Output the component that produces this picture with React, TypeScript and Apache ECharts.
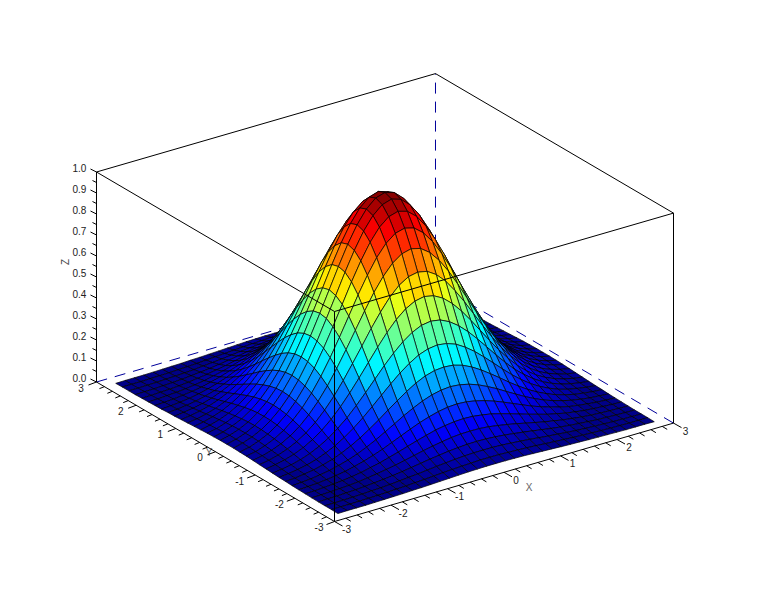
import React, { useEffect, useRef } from "react";
import * as echarts from "echarts";

// Mesh nodes on the x and y axes (34 cells in each direction).
const xGrid = [-2.8,-2.635,-2.471,-2.306,-2.141,-1.976,-1.812,-1.647,-1.482,-1.318,-1.153,-0.988,-0.824,-0.659,-0.494,-0.329,-0.165,0,0.165,0.329,0.494,0.659,0.824,0.988,1.153,1.318,1.482,1.647,1.812,1.976,2.141,2.306,2.471,2.635,2.8];
const yGrid = xGrid;
// Surface heights for one quadrant, from the peak outwards; the surface in the picture mirrors on both axes.
const zQuadrant = [
  [1.000,.987,.947,.885,.805,.712,.614,.515,.420,.333,.258,.194,.142,.101,.070,.047,.031,.020],
  [.987,.973,.934,.873,.794,.703,.605,.508,.414,.329,.254,.191,.140,.100,.069,.047,.031,.020],
  [.947,.934,.897,.838,.762,.675,.581,.487,.398,.316,.244,.183,.134,.096,.066,.045,.029,.019],
  [.885,.873,.838,.783,.712,.631,.543,.455,.371,.295,.228,.171,.126,.089,.062,.042,.027,.018],
  [.805,.794,.762,.712,.648,.573,.494,.414,.338,.268,.207,.156,.114,.081,.056,.038,.025,.016],
  [.712,.703,.675,.631,.573,.508,.437,.367,.299,.237,.184,.138,.101,.072,.050,.034,.022,.014],
  [.614,.605,.581,.543,.494,.437,.377,.316,.258,.205,.158,.119,.087,.062,.043,.029,.019,.012],
  [.515,.508,.487,.455,.414,.367,.316,.265,.216,.171,.133,.100,.073,.052,.036,.024,.016,.010],
  [.420,.414,.398,.371,.338,.299,.258,.216,.176,.140,.108,.081,.060,.042,.029,.020,.013,.008],
  [.333,.329,.316,.295,.268,.237,.205,.171,.140,.111,.086,.065,.047,.034,.023,.016,.010,.007],
  [.258,.254,.244,.228,.207,.184,.158,.133,.108,.086,.066,.050,.037,.026,.018,.012,.008,.005],
  [.194,.191,.183,.171,.156,.138,.119,.100,.081,.065,.050,.038,.027,.020,.014,.009,.006,.004],
  [.142,.140,.134,.126,.114,.101,.087,.073,.060,.047,.037,.027,.020,.014,.010,.007,.004,.003],
  [.101,.100,.096,.089,.081,.072,.062,.052,.042,.034,.026,.020,.014,.010,.007,.005,.003,.002],
  [.070,.069,.066,.062,.056,.050,.043,.036,.029,.023,.018,.014,.010,.007,.005,.003,.002,.001],
  [.047,.047,.045,.042,.038,.034,.029,.024,.020,.016,.012,.009,.007,.005,.003,.002,.001,.001],
  [.031,.031,.029,.027,.025,.022,.019,.016,.013,.010,.008,.006,.004,.003,.002,.001,.001,.001],
  [.020,.020,.019,.018,.016,.014,.012,.010,.008,.007,.005,.004,.003,.002,.001,.001,.001,.000],
];
const heightAt = (i: number, j: number) => zQuadrant[Math.abs(i - 17)][Math.abs(j - 17)];

const axisTicks = [-3,-2,-1,0,1,2,3];
const zTicks = [0,0.1,0.2,0.3,0.4,0.5,0.6,0.7,0.8,0.9,1];
const zTickLabels = ["0.0","0.1","0.2","0.3","0.4","0.5","0.6","0.7","0.8","0.9","1.0"];

const project = (x: number, y: number, z: number): [number, number] => [
  334.5 + 56.5 * (x + 3) - 39.667 * (y + 3),
  521.5 - 16.4 * (x + 3) - 23.25 * (y + 3) - 210 * z,
];

const jet = (t: number) => {
  const level = Math.min(63, Math.max(0, Math.floor(t * 64))) + 0.5;
  const v = level / 64;
  const c = (a: number) => Math.round(255 * Math.max(0, Math.min(1, 1.5 - Math.abs(4 * v - a))));
  return `rgb(${c(3)},${c(2)},${c(1)})`;
};

const backEdges = [
  [3, 3, 0, 3, 3, 1, 1],
  [-3, 3, 0, 3, 3, 0, 1],
  [3, -3, 0, 3, 3, 0, 1],
  [-3, 3, 1, 3, 3, 1, 0],
  [3, -3, 1, 3, 3, 1, 0],
  [-3, 3, 0, -3, 3, 1, 0],
  [3, -3, 0, 3, -3, 1, 0],
];
const frontEdges = [
  [-3, -3, 0, -3, -3, 1],
  [-3, -3, 1, 3, -3, 1],
  [-3, -3, 1, -3, 3, 1],
  [-3, -3, 0, 3, -3, 0],
  [-3, -3, 0, -3, 3, 0],
];

const font = '10px "Liberation Sans", Arial, sans-serif';

export default function App() {
  const ref = useRef<HTMLDivElement>(null);
  useEffect(() => {
    document.body.style.margin = "0";
    document.body.style.background = "#fff";
    const chart = echarts.init(ref.current!, undefined, { renderer: "svg" });
    const cells: number[][] = [];
    for (let i = xGrid.length - 2; i >= 0; i--)
      for (let j = yGrid.length - 2; j >= 0; j--) cells.push([i, j]);

    const edgeSeries = (data: number[][], z: number) => ({
      type: "custom", coordinateSystem: "cartesian2d", clip: false, silent: true, z, data,
      encode: { x: 0, y: 1 },
      renderItem: (_: any, api: any) => {
        const d = [0,1,2,3,4,5,6].map((k) => api.value(k));
        const a = api.coord(project(d[0], d[1], d[2]));
        const b = api.coord(project(d[3], d[4], d[5]));
        return { type: "line", shape: { x1: a[0], y1: a[1], x2: b[0], y2: b[1] },
          style: d[6] === 1 ? { stroke: "#00009a", lineWidth: 1, lineDash: [11, 8] } : { stroke: "#000", lineWidth: 1 } };
      },
    });

    const ticks: any[] = [];
    const addTick = (p: [number, number], dx: number, dy: number, label?: string, lx?: number, ly?: number) => ticks.push({ p, dx, dy, label, lx, ly });
    axisTicks.forEach((t, n) => {
      addTick(project(t, -3, 0), 8, 4.5, String(t), 12, 8);
      addTick(project(-3, t, 0), -8, 3, String(t), -15.5, 6);
      if (n < 6) for (let k = 1; k < 5; k++) {
        addTick(project(t + k * 0.2, -3, 0), 5, 3);
        addTick(project(-3, t + k * 0.2, 0), -5, 2);
      }
    });
    zTicks.forEach((t, n) => {
      addTick(project(-3, 3, t), -6, -3, zTickLabels[n], -17, -4);
      if (n < 10) addTick(project(-3, 3, t + 0.05), -4, -2);
    });

    const option: any = {
      animation: false,
      backgroundColor: "#fff",
      grid: { left: 0, right: 0, top: 0, bottom: 0 },
      xAxis: { type: "value", min: 0, max: 770, show: false },
      yAxis: { type: "value", min: 0, max: 597, inverse: true, show: false },
      series: [
        edgeSeries(backEdges, 1),
        {
          type: "custom", coordinateSystem: "cartesian2d", clip: false, silent: true, z: 2,
          data: cells, encode: { x: 0, y: 1 },
          renderItem: (_: any, api: any) => {
            const i = api.value(0), j = api.value(1);
            const corners = [[i, j], [i + 1, j], [i + 1, j + 1], [i, j + 1]];
            const mean = corners.reduce((s, c) => s + heightAt(c[0], c[1]), 0) / 4;
            return {
              type: "polygon",
              shape: { points: corners.map((c) => api.coord(project(xGrid[c[0]], yGrid[c[1]], heightAt(c[0], c[1])))) },
              style: { fill: jet(mean), stroke: "#000", lineWidth: 0.7 },
            };
          },
        },
        edgeSeries(frontEdges.map((e) => [...e, 0]), 3),
        {
          type: "custom", coordinateSystem: "cartesian2d", clip: false, silent: true, z: 4,
          data: ticks.map((_, n) => [n, 0]), encode: { x: 0, y: 1 },
          renderItem: (_: any, api: any) => {
            const t = ticks[api.value(0)];
            const a = api.coord(t.p);
            const children: any[] = [{ type: "line", shape: { x1: a[0], y1: a[1], x2: a[0] + t.dx, y2: a[1] + t.dy }, style: { stroke: "#000", lineWidth: 1 } }];
            if (t.label) children.push({ type: "text", style: { x: a[0] + t.lx, y: a[1] + t.ly, text: t.label, font, fill: "#222", textAlign: "center", textVerticalAlign: "middle" } });
            return { type: "group", children };
          },
        },
      ],
      graphic: [
        { type: "text", x: 529, y: 487, style: { text: "X", font, fill: "#666", textAlign: "center", textVerticalAlign: "middle" } },
        { type: "text", x: 209, y: 452, style: { text: "Y", font, fill: "#666", textAlign: "center", textVerticalAlign: "middle" } },
        { type: "text", x: 65, y: 262, rotation: Math.PI / 2, style: { text: "Z", font, fill: "#444", textAlign: "center", textVerticalAlign: "middle" } },
      ],
    };
    chart.setOption(option);
    return () => chart.dispose();
  }, []);
  return <div ref={ref} style={{ width: 770, height: 597 }} />;
}
